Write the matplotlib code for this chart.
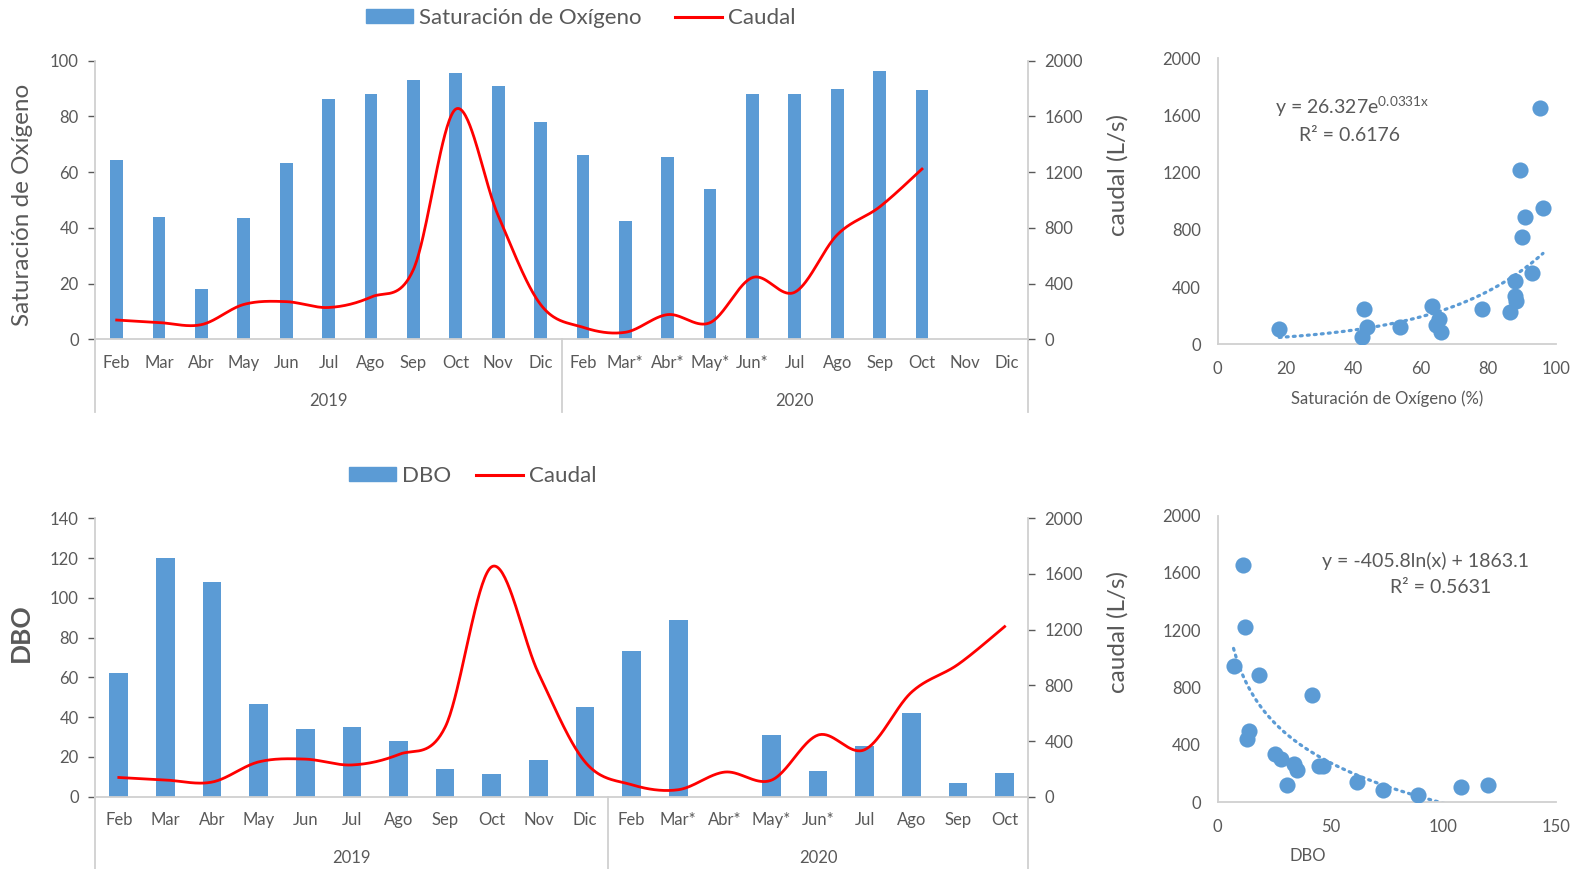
import numpy as np
import matplotlib
matplotlib.use("Agg")
import matplotlib.pyplot as plt
from matplotlib.patches import Patch
from matplotlib.lines import Line2D
from matplotlib.transforms import blended_transform_factory

plt.rcParams['font.family'] = ['Lato', 'DejaVu Sans']

BLUE = '#5B9BD5'
RED = '#FF0000'
GREY_TXT = '#595959'
GREY_AX = '#D0D0D0'

# monthly categories (two sampling years)
months_2019 = ['Feb', 'Mar', 'Abr', 'May', 'Jun', 'Jul', 'Ago', 'Sep', 'Oct', 'Nov', 'Dic']
months_2020_sat = ['Feb', 'Mar*', 'Abr*', 'May*', 'Jun*', 'Jul', 'Ago', 'Sep', 'Oct', 'Nov', 'Dic']
months_2020_dbo = ['Feb', 'Mar*', 'Abr*', 'May*', 'Jun*', 'Jul', 'Ago', 'Sep', 'Oct']

# oxygen saturation (%), Feb 2019 .. Oct 2020
saturacion = [64.5, 44, 18.2, 43.4, 63.4, 86.3, 88.2, 93, 95.4, 91, 78.1,
              66, 42.6, 65.3, 53.9, 88, 87.9, 90, 96.2, 89.4]
# DBO, same months (Abr* 2020 not measured)
dbo = [62, 120, 108, 46.6, 34, 35.2, 28.2, 14, 11.2, 18.3, 45.1,
       73.4, 88.8, np.nan, 30.9, 12.9, 25.5, 41.9, 7, 12.1]
# flow (L/s), same months
caudal = [138, 120, 105, 250, 270, 228, 303, 500, 1652, 888, 250,
          86, 50, 177, 119, 443, 338, 750, 950, 1222]

# fitted trendlines
exp_a, exp_b, exp_r2 = 26.327, 0.0331, 0.6176
log_a, log_b, log_r2 = -405.8, 1863.1, 0.5631


def smooth_curve(x, y, n=40):
    # cubic Bezier through the points, like a spreadsheet "smoothed line"
    p = np.column_stack([x, y]).astype(float)
    p = np.vstack([p[:1], p, p[-1:]])
    t = np.linspace(0, 1, n)[:, None]
    out = []
    for i in range(1, len(p) - 2):
        p0, p3 = p[i], p[i + 1]
        c1 = p0 + (p[i + 1] - p[i - 1]) / 6
        c2 = p3 - (p[i + 2] - p[i]) / 6
        seg = (1 - t) ** 3 * p0 + 3 * (1 - t) ** 2 * t * c1 + 3 * (1 - t) * t ** 2 * c2 + t ** 3 * p3
        out.append(seg)
    out = np.vstack(out)
    return out[:, 0], out[:, 1]


def combo_chart(rect, values, labels_2019, labels_2020, ymax, ystep, ylabel, bar_width,
                ylabel_y, ylabel_bold, ylabel_size):
    ax = fig.add_axes(rect)
    n = len(labels_2019) + len(labels_2020)
    x = np.arange(len(values))
    ax.bar(x, values, width=bar_width, color=BLUE, zorder=2)
    ax.set_xlim(-0.5, n - 0.5)
    ax.set_ylim(0, ymax)
    ax.set_yticks(np.arange(0, ymax + 1, ystep))
    ax.set_xticks(np.arange(n))
    ax.set_xticklabels(labels_2019 + labels_2020)
    ax.tick_params(axis='x', length=0, pad=11, labelsize=12, colors=GREY_TXT)
    ax.tick_params(axis='y', length=5, width=1, pad=7, labelsize=12, colors=GREY_TXT)
    for s in ['top', 'right']:
        ax.spines[s].set_visible(False)
    for s in ['left', 'bottom']:
        ax.spines[s].set_color(GREY_AX)
        ax.spines[s].set_linewidth(1.3)
    ax.set_ylabel(ylabel, fontsize=ylabel_size, color=GREY_TXT,
                  fontweight='bold' if ylabel_bold else 'normal')
    ax.yaxis.set_label_coords(-0.067, ylabel_y)

    # group separators and year labels below the category axis
    tr = blended_transform_factory(ax.transData, ax.transAxes)
    n19 = len(labels_2019)
    for xs in [-0.5, n19 - 0.5, n - 0.5]:
        ax.plot([xs, xs], [0, -0.262], transform=tr, color=GREY_AX, lw=1.3, clip_on=False)
    ax.text((n19 - 1) / 2, -0.22, '2019', transform=tr, ha='center', va='center',
            fontsize=12, color=GREY_TXT)
    ax.text(n19 + (len(labels_2020) - 1) / 2, -0.22, '2020', transform=tr, ha='center',
            va='center', fontsize=12, color=GREY_TXT)

    ax2 = ax.twinx()
    sx, sy = smooth_curve(np.arange(len(caudal)), caudal)
    ax2.plot(sx, sy, color=RED, lw=2.0, zorder=3)
    ax2.set_ylim(0, 2000)
    ax2.set_yticks(np.arange(0, 2001, 400))
    ax2.tick_params(axis='y', length=5, width=1, pad=7, labelsize=12, colors=GREY_TXT)
    for s in ['top', 'left', 'bottom']:
        ax2.spines[s].set_visible(False)
    ax2.spines['right'].set_color(GREY_AX)
    ax2.spines['right'].set_linewidth(1.3)
    ax2.set_ylabel('caudal (L/s)', fontsize=17.5, color=GREY_TXT)
    ax2.yaxis.set_label_coords(1.0847, 0.59)
    return ax, ax2


def scatter_chart(rect, xv, yv, xmax, xstep, xlabel, xlabel_x):
    ax = fig.add_axes(rect)
    ax.scatter(xv, yv, s=135, color=BLUE, zorder=3, linewidths=0)
    ax.set_xlim(0, xmax)
    ax.set_ylim(0, 2000)
    ax.set_xticks(np.arange(0, xmax + 1, xstep))
    ax.set_yticks(np.arange(0, 2001, 400))
    ax.tick_params(length=0, labelsize=12, colors=GREY_TXT)
    ax.tick_params(axis='x', pad=12)
    ax.tick_params(axis='y', pad=12)
    for s in ['top', 'right']:
        ax.spines[s].set_visible(False)
    for s in ['left', 'bottom']:
        ax.spines[s].set_color(GREY_AX)
        ax.spines[s].set_linewidth(1.3)
    ax.set_xlabel(xlabel, fontsize=12, color=GREY_TXT)
    ax.xaxis.set_label_coords(xlabel_x, -0.16)
    return ax


fig = plt.figure(figsize=(15.85, 8.69), dpi=100)

# top: oxygen saturation vs flow
combo_chart([0.06025, 0.6096, 0.5883, 0.3206], saturacion, months_2019, months_2020_sat,
            100, 20, 'Saturación de Oxígeno', 0.3, 0.484, False, 17.5)
fig.legend(handles=[Patch(color=BLUE, label='Saturación de Oxígeno'),
                    Line2D([], [], color=RED, lw=2.2, label='Caudal')],
           loc='center', bbox_to_anchor=(0.3665, 0.979), ncol=2, frameon=False,
           fontsize=16, labelcolor=GREY_TXT, handlelength=2.1, handleheight=0.6,
           columnspacing=1.5, handletextpad=0.3)

# bottom: DBO vs flow
combo_chart([0.06025, 0.0832, 0.5883, 0.3204], dbo, months_2019, months_2020_dbo,
            140, 20, 'DBO', 0.4, 0.59, True, 19)
fig.legend(handles=[Patch(color=BLUE, label='DBO'),
                    Line2D([], [], color=RED, lw=2.2, label='Caudal')],
           loc='center', bbox_to_anchor=(0.2984, 0.452), ncol=2, frameon=False,
           fontsize=16, labelcolor=GREY_TXT, handlelength=2.1, handleheight=0.6,
           columnspacing=1.1, handletextpad=0.3)

# scatter: saturation vs flow with exponential fit
ax_s1 = scatter_chart([0.7683, 0.6038, 0.2133, 0.3291], saturacion, caudal, 100, 20,
                      'Saturación de Oxígeno (%)', 0.5)
xs = np.linspace(min(saturacion), max(saturacion), 200)
ax_s1.plot(xs, exp_a * np.exp(exp_b * xs), color=BLUE, lw=2.3, linestyle=(0, (0.6, 1.6)),
           dash_capstyle='round', zorder=2)
ax_s1.text(0.17, 0.83, f'y = {exp_a}e$^{{\\mathregular{{{exp_b}x}}}}$', transform=ax_s1.transAxes,
           fontsize=14, color=GREY_TXT, va='center', ha='left')
ax_s1.text(0.39, 0.731, f'R² = {exp_r2}', transform=ax_s1.transAxes,
           fontsize=14, color=GREY_TXT, va='center', ha='center')

# scatter: DBO vs flow with logarithmic fit
dbo_arr = np.array(dbo)
ok = ~np.isnan(dbo_arr)
ax_s2 = scatter_chart([0.7683, 0.0768, 0.2133, 0.3299], dbo_arr[ok], np.array(caudal)[ok], 150, 50,
                      'DBO', 0.265)
xl = np.linspace(np.nanmin(dbo_arr), np.nanmax(dbo_arr), 300)
ax_s2.plot(xl, log_a * np.log(xl) + log_b, color=BLUE, lw=2.3, linestyle=(0, (0.6, 1.6)),
           dash_capstyle='round', zorder=2)
ax_s2.text(0.615, 0.84, f'y = {log_a}ln(x) + {log_b}', transform=ax_s2.transAxes,
           fontsize=14, color=GREY_TXT, va='center', ha='center')
ax_s2.text(0.66, 0.75, f'R² = {log_r2}', transform=ax_s2.transAxes,
           fontsize=14, color=GREY_TXT, va='center', ha='center')

fig.savefig('out.png', dpi=100)
